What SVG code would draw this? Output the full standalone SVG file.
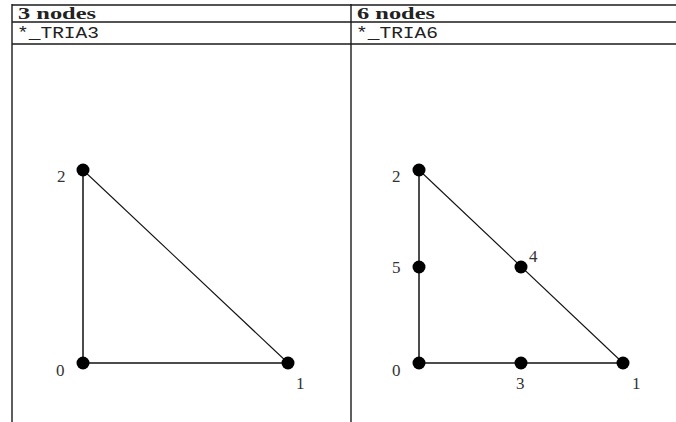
<svg xmlns="http://www.w3.org/2000/svg" width="676" height="422" viewBox="0 0 676 422">
<style>
.tbl{stroke:#1a1a1a;stroke-width:1.4;fill:none}
.leg{stroke:#111;stroke-width:1.5;fill:none}
.hyp{stroke:#111;stroke-width:1.1;fill:none}
.dot{fill:#000}
.hd{font-family:"Liberation Serif","DejaVu Serif",serif;font-weight:bold;font-size:17px;fill:#222}
.code{font-family:"Liberation Mono","DejaVu Sans Mono",monospace;font-size:16px;fill:#222}
.lbl{font-family:"Liberation Serif","DejaVu Serif",serif;font-size:17px;fill:#333}
</style>
<rect width="676" height="422" fill="#fff"/>
<g id="table">
<line class="tbl" x1="12" y1="5" x2="676" y2="5" style="stroke-width:1.7"/>
<line class="tbl" x1="12" y1="22" x2="676" y2="22"/>
<line class="tbl" x1="12" y1="44" x2="676" y2="44"/>
<line class="tbl" x1="12" y1="4" x2="12" y2="422"/>
<line class="tbl" x1="351" y1="4" x2="351" y2="422"/>
<text class="hd" x="18" y="18.5" textLength="78" lengthAdjust="spacingAndGlyphs">3 nodes</text>
<text class="hd" x="357" y="18.5" textLength="78" lengthAdjust="spacingAndGlyphs">6 nodes</text>
<text class="code" x="17" y="38" textLength="82" lengthAdjust="spacingAndGlyphs">*_TRIA3</text>
<text class="code" x="356" y="38" textLength="82" lengthAdjust="spacingAndGlyphs">*_TRIA6</text>
</g>
<g id="connectors">
<line class="leg" x1="83" y1="363" x2="288" y2="363"/>
<line class="leg" x1="83" y1="363" x2="83" y2="170"/>
<line class="hyp" x1="83" y1="170" x2="288" y2="363"/>
<line class="leg" x1="419" y1="363" x2="623" y2="363"/>
<line class="leg" x1="419" y1="363" x2="419" y2="170"/>
<line class="hyp" x1="419" y1="170" x2="623" y2="363"/>
</g>
<g id="t3n0"><circle class="dot" cx="83" cy="363" r="6.5"/><text class="lbl" x="56" y="376">0</text></g>
<g id="t3n1"><circle class="dot" cx="288" cy="363" r="6.5"/><text class="lbl" x="296" y="389">1</text></g>
<g id="t3n2"><circle class="dot" cx="83" cy="170" r="6.5"/><text class="lbl" x="57" y="182">2</text></g>
<g id="t6n0"><circle class="dot" cx="419" cy="363" r="6.5"/><text class="lbl" x="392" y="376">0</text></g>
<g id="t6n1"><circle class="dot" cx="623" cy="363" r="6.5"/><text class="lbl" x="632" y="389">1</text></g>
<g id="t6n2"><circle class="dot" cx="419" cy="170" r="6.5"/><text class="lbl" x="392" y="182">2</text></g>
<g id="t6n3"><circle class="dot" cx="521" cy="363" r="6.5"/><text class="lbl" x="516" y="389">3</text></g>
<g id="t6n4"><circle class="dot" cx="521" cy="267" r="6.5"/><text class="lbl" x="529" y="262">4</text></g>
<g id="t6n5"><circle class="dot" cx="419" cy="267" r="6.5"/><text class="lbl" x="392" y="273">5</text></g>
</svg>
